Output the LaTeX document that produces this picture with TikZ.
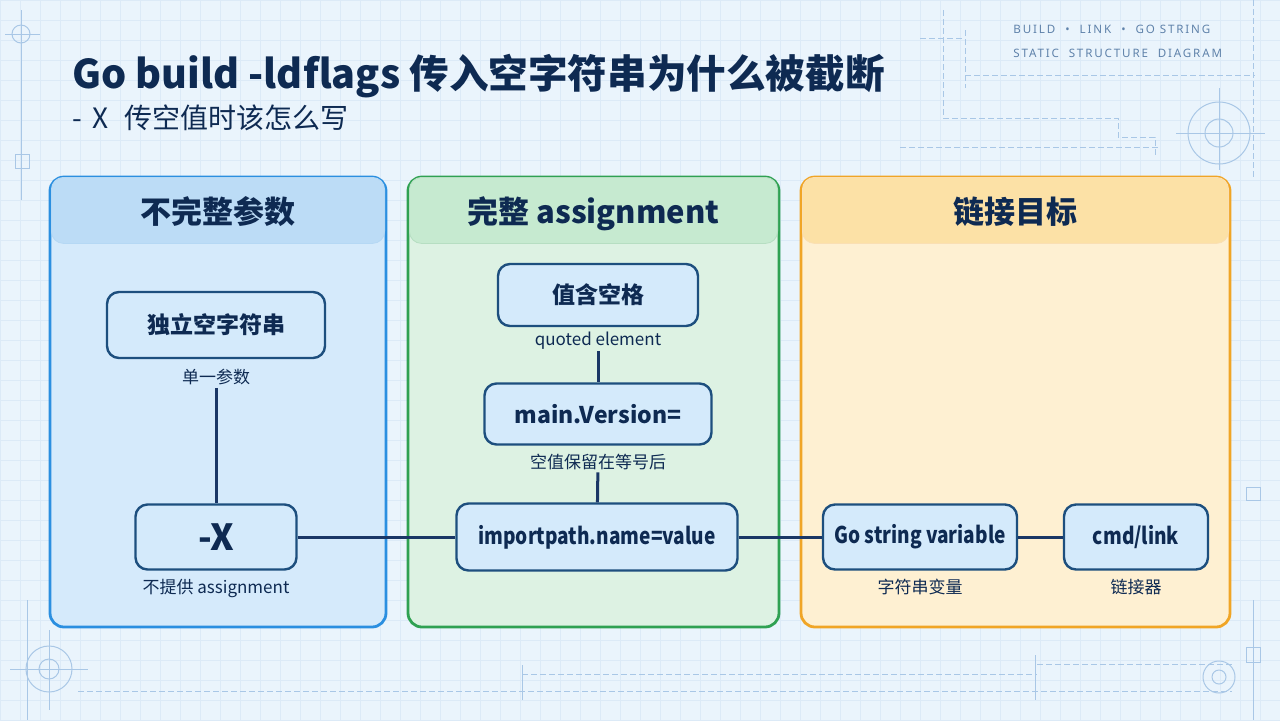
\documentclass[tikz,border=0pt]{standalone}
\usepackage{fontspec}
\setmainfont{Noto Sans CJK SC}
\newfontfamily\narrowfont[FakeStretch=0.83]{Noto Sans CJK SC}
\newfontfamily\tagfont[LetterSpace=16]{Noto Sans}
\usetikzlibrary{positioning}
\definecolor{ink}{HTML}{0E2A52}
\definecolor{bgc}{HTML}{EAF4FC}
\definecolor{gridc}{HTML}{DCEAF7}
\definecolor{decoc}{HTML}{A9C7E6}
\definecolor{tagc}{HTML}{5F82AA}
\definecolor{blueline}{HTML}{2B8FE0}
\definecolor{bluefill}{HTML}{D5EAFB}
\definecolor{bluehead}{HTML}{BCDCF6}
\definecolor{greenline}{HTML}{2FA152}
\definecolor{greenfill}{HTML}{DDF2E3}
\definecolor{greenhead}{HTML}{C6EAD0}
\definecolor{orgline}{HTML}{F0A526}
\definecolor{orgfill}{HTML}{FEF0D2}
\definecolor{orghead}{HTML}{FCE1A6}
\definecolor{boxfill}{HTML}{D4EAFB}
\definecolor{boxline}{HTML}{1D4F7E}
\definecolor{wire}{HTML}{1A3766}
\tikzset{
  panel/.style={draw=#1, line width=1.4pt, rounded corners=7pt, minimum height=225pt, inner sep=0pt},
  phead/.style={rounded corners=6pt, minimum height=33pt, inner sep=0pt, text=ink, text depth=0pt,
                font=\bfseries\fontsize{15.5}{18}\selectfont},
  box/.style={draw=boxline, line width=1.2pt, rounded corners=6pt, fill=boxfill, text=ink,
              font=\bfseries\fontsize{11.5}{14}\selectfont, inner sep=0pt},
  narrowbox/.style={box, font=\narrowfont\bfseries\fontsize{11.5}{14}\selectfont},
  note/.style={text=ink, font=\fontsize{8.5}{10}\selectfont, inner sep=1pt},
  link/.style={draw=wire, line width=1.5pt},
  deco/.style={draw=decoc, line width=0.5pt},
  decodash/.style={deco, dash pattern=on 3pt off 1.5pt},
  tag/.style={anchor=west, inner sep=0pt, text=tagc, font=\tagfont\fontsize{5.8}{7}\selectfont},
}

\begin{document}
\begin{tikzpicture}[x=0.5pt, y=-0.5pt, node distance=3pt]
  % background and grid
  \fill[bgc] (0,0) rectangle (1280,720);
  \useasboundingbox (0,0) rectangle (1280,720);
  \foreach \gx in {0,20,...,1280} \draw[gridc, line width=0.3pt] (\gx,0) -- (\gx,720);
  \foreach \gy in {0,20,...,720} \draw[gridc, line width=0.3pt] (0,\gy) -- (1280,\gy);

  % blueprint marks
  \draw[deco] (21,10) -- (21,200) (5,34) -- (40,34);
  \draw[deco] (21,34) circle (9);
  \draw[deco] (15,154) rectangle (29,168);
  \draw[decodash] (920,38) -- (965,38) (943,10) -- (943,118) (965,30) -- (965,88);
  \draw[decodash] (965,75) -- (1255,75) (943,118) -- (1118,118) -- (1118,137) -- (1155,137) -- (1155,157);
  \draw[decodash] (900,147) -- (1160,147) (1253,0) -- (1253,180);
  \draw[deco] (1219,133) circle (31) (1219,133) circle (14);
  \draw[deco] (1176,133) -- (1265,133) (1219,88) -- (1219,170);
  \draw[deco] (49,669) circle (23) (49,669) circle (10);
  \draw[deco] (10,669) -- (88,669) (49,630) -- (49,710) (27,600) -- (27,720);
  \draw[decodash] (78,691) -- (1232,691) (522,674) -- (1037,674) (1037,664) -- (1235,664);
  \draw[deco] (522,665) -- (522,700) (1035,655) -- (1035,700);
  \draw[deco] (1219,677) circle (16) (1219,677) circle (7);
  \draw[deco] (1246,647) rectangle (1260,662) (1246,487) rectangle (1260,500) (1253,600) -- (1253,720);

  % title
  \node[anchor=base west, inner sep=0pt, text=ink, font=\bfseries\fontsize{19.8}{23}\selectfont] (title) at (72,88)
    {Go build -ldflags 传入空字符串为什么被截断};
  \node[anchor=west, inner sep=0pt, text=ink, font=\fontsize{14}{16}\selectfont] (subtitle) at (72,118)
    {-\hspace{5pt}X\hspace{5pt} 传空值时该怎么写};
  \node[tag] (tag1) at (1013,29) {BUILD\hspace{5pt}•\hspace{5pt}LINK\hspace{5pt}•\hspace{5pt}GO STRING};
  \node[tag] (tag2) at (1013,53) {STATIC \ STRUCTURE \ DIAGRAM};

  % panels
  \node[panel=blueline, fill=bluefill, minimum width=168pt] (pA) at (218,402) {};
  \node[panel=greenline, fill=greenfill, minimum width=185.5pt] (pB) at (593.5,402) {};
  \node[panel=orgline, fill=orgfill, minimum width=214.5pt] (pC) at (1015.5,402) {};
  \node[phead, fill=bluehead, draw=blueline!35, minimum width=166.6pt, anchor=north, yshift=-0.7pt] (hA) at (pA.north) {不完整参数};
  \node[phead, fill=greenhead, draw=greenline!35, minimum width=184.1pt, anchor=north, yshift=-0.7pt] (hB) at (pB.north) {完整 assignment};
  \node[phead, fill=orghead, draw=orgline!35, minimum width=213.1pt, anchor=north, yshift=-0.7pt] (hC) at (pC.north) {链接目标};

  % incomplete
  \node[box, minimum width=109pt, minimum height=33pt] (solo) at (216,325) {独立空字符串};
  \node[note, below=4pt of solo] (soloN) {单一参数};
  \node[box, minimum width=80.5pt, minimum height=32.5pt, font=\bfseries\fontsize{18}{20}\selectfont] (flagx) at (216,537) {-X};
  \node[note, below=of flagx] (flagxN) {不提供 assignment};

  % complete
  \node[box, minimum width=100pt, minimum height=31pt] (space) at (598,295) {值含空格};
  \node[note, below=1pt of space] (spaceN) {quoted element};
  \node[box, minimum width=113.5pt, minimum height=30.5pt] (ver) at (598,414) {main.Version=};
  \node[note, below=of ver] (verN) {空值保留在等号后};
  \node[narrowbox, minimum width=140.5pt, minimum height=33.5pt] (assign) at (597,537) {importpath.name=value};

  % link target
  \node[narrowbox, minimum width=97pt, minimum height=32.5pt] (gostr) at (920,537) {Go string variable};
  \node[note, below=of gostr] (gostrN) {字符串变量};
  \node[narrowbox, minimum width=72pt, minimum height=32.5pt] (linker) at (1136,537) {cmd/link};
  \node[note, below=of linker] (linkerN) {链接器};

  \draw[link] (soloN) -- (flagx);
  \draw[link] (flagx) -- (assign);
  \draw[link] (spaceN) -- (ver);
  \draw[link] (verN) -- (assign);
  \draw[link] (assign) -- (gostr);
  \draw[link] (gostr) -- (linker);
\end{tikzpicture}
\end{document}
